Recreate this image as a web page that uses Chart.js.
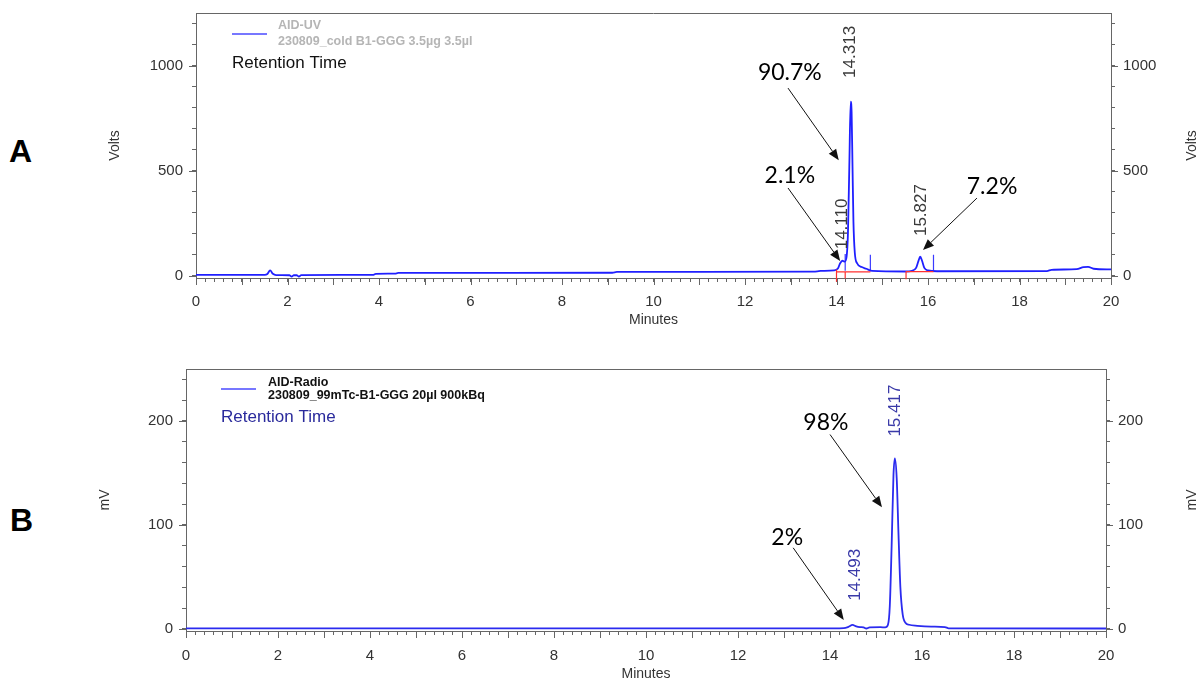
<!DOCTYPE html>
<html>
<head>
<meta charset="utf-8">
<title>HPLC chromatograms</title>
<script src="https://cdn.jsdelivr.net/npm/chart.js@4.4.0/dist/chart.umd.min.js"></script>
<style>
  html, body { margin: 0; padding: 0; background: #fff; overflow: hidden; }
  #wrap { position: relative; width: 1198px; height: 681px; overflow: hidden; }
  canvas { position: absolute; left: 0; }
  #cvA { top: -10px; }
  #cvB { top: 340px; }
  .panel { position: absolute; font: bold 32px Arial, "Liberation Sans", sans-serif; line-height: 32px; color: #000; }
</style>
</head>
<body>
<div id="wrap">
  <div class="panel" style="left:9px; top:135px">A</div>
  <div class="panel" style="left:10px; top:504px">B</div>
  <canvas id="cvA" width="1198" height="350"></canvas>
  <canvas id="cvB" width="1198" height="345"></canvas>
</div>
<script>
const FONT = 'Arial, "Liberation Sans", sans-serif'
const AXIS = '#666'
const TXT = '#333'

// Panel A: UV trace (minutes, volts)
const uvTime = [0, 1.5, 1.56, 1.62, 1.68, 1.75, 2.04, 2.09, 2.14, 2.2, 2.25, 2.3, 3.88, 3.93, 4.35, 4.42,
  9.1, 9.2, 13.5, 13.65, 13.95, 14.03, 14.08, 14.13, 14.18, 14.22, 14.25, 14.28, 14.31, 14.33, 14.35,
  14.37, 14.4, 14.45, 14.55, 14.65, 14.78, 15.5, 15.65, 15.74, 15.79, 15.83, 15.87, 15.92, 16.0, 16.2,
  18.6, 18.7, 19.25, 19.4, 19.5, 19.62, 20]
const uvVolts = [5, 5, 9, 26, 10, 4, 3, -3, 3, 3, -3, 4, 5, 10, 11, 14,
  15, 19, 20, 24, 26, 35, 60, 72, 68, 90, 200, 520, 828, 780, 520,
  260, 110, 60, 42, 34, 24, 21, 24, 38, 70, 91, 72, 38, 26, 22,
  23, 29, 32, 42, 43, 34, 31]

// integration event marks (blue) and baseline / drop lines (red)
const uvEventTimes = [14.19, 14.74, 16.12]
const uvEventLow = [24, 22, 24]
const uvEventHigh = [104, 100, 100]
const uvBaseStart = [14.0, 15.52]
const uvBaseEnd = [14.74, 16.12]
const uvBaseLevel = [19, 20]
const uvDropTimes = [14.0, 14.19, 15.52]
const uvDropTop = [30, 22, 22]
const uvDropBottom = [-28, -12, -16]

// Panel B: radio trace (minutes, mV)
const radioTime = [0, 13.8, 14.3, 14.4, 14.49, 14.57, 14.65, 14.73, 14.79, 14.86, 15.1, 15.2, 15.26,
  15.3, 15.34, 15.38, 15.41, 15.45, 15.49, 15.53, 15.58, 15.64, 15.72, 15.9, 16.2, 16.5, 16.58, 20]
const radioMv = [0.5, 0.5, 0.8, 2, 3.8, 2.5, 1.8, 1.5, 0.4, 1.5, 1.7, 1.4, 4,
  22, 80, 148, 164, 145, 90, 40, 14, 6, 4, 3, 2.2, 1.8, 0.6, 0.4]

const xTickLabels = [0, 2, 4, 6, 8, 10, 12, 14, 16, 18, 20]
const uvYLabels = [0, 500, 1000]
const radioYLabels = [0, 100, 200]

// peak annotations, in data units
const uvNotes = [
  { text: '90.7%', t: 12.98, v: 966 },
  { text: '2.1%', t: 12.98, v: 475 },
  { text: '7.2%', t: 17.4, v: 427 },
  { text: '14.313', t: 14.3, v: 1065, rot: true },
  { text: '14.110', t: 14.12, v: 247, rot: true },
  { text: '15.827', t: 15.85, v: 313, rot: true }
]
const uvArrows = [
  [12.94, 893, 14.05, 550],
  [12.94, 418, 14.08, 71],
  [17.07, 370, 15.89, 123]
]
const radioNotes = [
  { text: '98%', t: 13.91, v: 198 },
  { text: '2%', t: 13.07, v: 88 },
  { text: '15.417', t: 15.41, v: 210, rot: true },
  { text: '14.493', t: 14.54, v: 52, rot: true }
]
const radioArrows = [
  [14.0, 187, 15.13, 117],
  [13.2, 78, 14.3, 8.6]
]

function toPoints(xs, ys) {
  return xs.map((x, i) => ({ x, y: ys[i] }))
}

function segments(x1, x2, y1, y2) {
  const pts = []
  x1.forEach((x, i) => {
    pts.push({ x, y: y1[i] }, { x: x2[i], y: y2[i] }, { x: x2[i], y: null })
  })
  return pts
}

const chromPlugin = {
  id: 'chrom',
  afterDraw(chart, args, o) {
    const { ctx, chartArea: a, scales } = chart
    const sx = scales.x, sy = scales.y
    ctx.save()

    // top frame line
    ctx.strokeStyle = AXIS
    ctx.lineWidth = 1
    ctx.beginPath()
    ctx.moveTo(a.left, Math.round(a.top) + 0.5)
    ctx.lineTo(a.right, Math.round(a.top) + 0.5)
    ctx.stroke()

    // longer marks on whole minutes and labelled values
    ctx.beginPath()
    sx.ticks.forEach(t => {
      if (Math.abs(t.value - Math.round(t.value)) < 1e-6) {
        const px = Math.round(sx.getPixelForValue(t.value)) + 0.5
        ctx.moveTo(px, a.bottom)
        ctx.lineTo(px, a.bottom + 7)
      }
    })
    o.yLabels.forEach(v => {
      const py = Math.round(sy.getPixelForValue(v)) + 0.5
      ctx.moveTo(a.left - 7, py)
      ctx.lineTo(a.left, py)
      ctx.moveTo(a.right, py)
      ctx.lineTo(a.right + 7, py)
    })
    ctx.stroke()

    // right axis title (cut by the page edge)
    ctx.fillStyle = TXT
    ctx.font = '14px ' + FONT
    ctx.textAlign = 'center'
    ctx.textBaseline = 'middle'
    ctx.translate(chart.width - 6, (a.top + a.bottom) / 2)
    ctx.rotate(-Math.PI / 2)
    ctx.fillText(o.yTitle, 0, 0)
    ctx.setTransform(1, 0, 0, 1, 0, 0)

    // legend block
    const lx = a.left + o.legend.dx
    ctx.strokeStyle = o.legend.lineColor
    ctx.lineWidth = 1.5
    ctx.beginPath()
    ctx.moveTo(lx, a.top + o.legend.lineY)
    ctx.lineTo(lx + 35, a.top + o.legend.lineY)
    ctx.stroke()
    ctx.textAlign = 'left'
    ctx.fillStyle = o.legend.color
    ctx.font = 'bold 12.5px ' + FONT
    ctx.fillText(o.legend.name, a.left + 82, a.top + o.legend.y1)
    ctx.fillText(o.legend.sample, a.left + 82, a.top + o.legend.y2)
    ctx.fillStyle = o.legend.rtColor
    ctx.font = '17px ' + FONT
    ctx.fillText('Retention Time', lx, a.top + o.legend.y3)

    // arrows
    ctx.strokeStyle = '#111'
    ctx.fillStyle = '#111'
    ctx.lineWidth = 1
    o.arrows.forEach(([t1, v1, t2, v2]) => {
      const x1 = sx.getPixelForValue(t1), y1 = sy.getPixelForValue(v1)
      const x2 = sx.getPixelForValue(t2), y2 = sy.getPixelForValue(v2)
      const ang = Math.atan2(y2 - y1, x2 - x1)
      const hl = 11, hw = 4.5
      const bx = x2 - hl * Math.cos(ang), by = y2 - hl * Math.sin(ang)
      ctx.beginPath()
      ctx.moveTo(x1, y1)
      ctx.lineTo(bx, by)
      ctx.stroke()
      ctx.beginPath()
      ctx.moveTo(x2, y2)
      ctx.lineTo(bx + hw * Math.sin(ang), by - hw * Math.cos(ang))
      ctx.lineTo(bx - hw * Math.sin(ang), by + hw * Math.cos(ang))
      ctx.closePath()
      ctx.fill()
    })

    // percentages and retention times
    ctx.textAlign = 'center'
    ctx.textBaseline = 'middle'
    o.notes.forEach(n => {
      const px = sx.getPixelForValue(n.t), py = sy.getPixelForValue(n.v)
      if (n.rot) {
        ctx.fillStyle = o.rtTextColor
        ctx.font = '17px ' + FONT
        ctx.translate(px, py)
        ctx.rotate(-Math.PI / 2)
        ctx.fillText(n.text, 0, 0)
        ctx.setTransform(1, 0, 0, 1, 0, 0)
      } else {
        ctx.fillStyle = '#000'
        ctx.font = '23px Lato, "Open Sans", sans-serif'
        ctx.fillText(n.text, px, py)
      }
    })
    ctx.restore()
  }
}

function makeChart(id, p) {
  const tickFont = { family: FONT, size: 15 }
  const yTickCallback = v => p.yLabels.includes(v) ? String(v) : ''
  return new Chart(document.getElementById(id), {
    type: 'line',
    data: { datasets: p.datasets },
    options: {
      responsive: false,
      animation: false,
      events: [],
      layout: { autoPadding: false, padding: { top: p.top, left: 0, right: 0, bottom: 0 } },
      plugins: {
        legend: { display: false },
        tooltip: { enabled: false },
        chrom: {
          yLabels: p.yLabels,
          yTitle: p.yTitle,
          legend: p.legend,
          notes: p.notes,
          arrows: p.arrows,
          rtTextColor: p.rtTextColor
        }
      },
      scales: {
        x: {
          type: 'linear',
          min: 0,
          max: 20,
          afterFit: s => { s.height = p.xHeight },
          border: { color: AXIS },
          grid: { drawOnChartArea: false, tickLength: 4, color: AXIS },
          ticks: {
            stepSize: 0.2,
            autoSkip: false,
            maxRotation: 0,
            includeBounds: false,
            padding: p.xPad,
            color: TXT,
            font: tickFont,
            callback: v => {
              const r = Math.round(v)
              return Math.abs(v - r) < 1e-6 && xTickLabels.includes(r) ? String(r) : ''
            }
          },
          title: {
            display: true,
            text: 'Minutes',
            color: TXT,
            font: { family: FONT, size: 14 },
            padding: { top: 0, bottom: p.minutesPad }
          }
        },
        y: {
          type: 'linear',
          position: 'left',
          min: p.yMin,
          max: p.yMax,
          afterFit: s => { s.width = p.left },
          border: { color: AXIS },
          grid: { drawOnChartArea: false, tickLength: 4, color: AXIS },
          ticks: { stepSize: p.yStep, includeBounds: false, padding: 9, color: TXT, font: tickFont, callback: yTickCallback },
          title: {
            display: true,
            text: p.yTitle,
            color: TXT,
            font: { family: FONT, size: 14 },
            padding: { top: p.yTitlePad, bottom: 0 }
          }
        },
        y2: {
          type: 'linear',
          position: 'right',
          min: p.yMin,
          max: p.yMax,
          afterFit: s => { s.width = 1198 - p.right },
          border: { color: AXIS },
          grid: { drawOnChartArea: false, tickLength: 4, color: AXIS },
          ticks: { stepSize: p.yStep, includeBounds: false, padding: 8, color: TXT, font: tickFont, callback: yTickCallback }
        }
      }
    },
    plugins: [chromPlugin]
  })
}

// canvas A is shifted up by 10px, so its inner offsets include that shift
makeChart('cvA', {
  top: 23, left: 196, right: 1111, xHeight: 62,
  yMin: -10, yMax: 1250, yStep: 100, yLabels: uvYLabels, yTitle: 'Volts', yTitlePad: 107,
  xPad: 11, minutesPad: 11,
  rtTextColor: '#3a3a3a',
  legend: {
    dx: 36, lineY: 21, y1: 13, y2: 29, y3: 50,
    lineColor: '#4a4aff', color: '#b5b5b5', rtColor: '#111',
    name: 'AID-UV', sample: '230809_cold B1-GGG 3.5µg 3.5µl'
  },
  notes: uvNotes,
  arrows: uvArrows,
  datasets: [
    {
      label: 'AID-UV',
      data: toPoints(uvTime, uvVolts),
      borderColor: '#1f1fff',
      borderWidth: 1.8,
      pointRadius: 0,
      cubicInterpolationMode: 'monotone',
      order: 2
    },
    {
      label: 'events',
      data: segments(uvEventTimes, uvEventTimes, uvEventLow, uvEventHigh),
      borderColor: '#3a3aff',
      borderWidth: 1.2,
      pointRadius: 0,
      spanGaps: false,
      order: 3
    },
    {
      label: 'baseline',
      data: segments(uvBaseStart, uvBaseEnd, uvBaseLevel, uvBaseLevel)
        .concat(segments(uvDropTimes, uvDropTimes, uvDropTop, uvDropBottom)),
      borderColor: '#ff3030',
      borderWidth: 1.2,
      pointRadius: 0,
      spanGaps: false,
      clip: false,
      order: 1
    }
  ]
})

makeChart('cvB', {
  top: 29, left: 186, right: 1106, xHeight: 54,
  yMin: -2, yMax: 250, yStep: 10, yLabels: radioYLabels, yTitle: 'mV', yTitlePad: 97,
  xPad: 12, minutesPad: 2,
  rtTextColor: '#3a3aa8',
  legend: {
    dx: 35, lineY: 20, y1: 13.5, y2: 27, y3: 48.5,
    lineColor: '#4a4aff', color: '#111', rtColor: '#2a2a9c',
    name: 'AID-Radio', sample: '230809_99mTc-B1-GGG 20µl 900kBq'
  },
  notes: radioNotes,
  arrows: radioArrows,
  datasets: [
    {
      label: 'AID-Radio',
      data: toPoints(radioTime, radioMv),
      borderColor: '#2b2bef',
      borderWidth: 1.8,
      pointRadius: 0,
      cubicInterpolationMode: 'monotone'
    }
  ]
})
</script>
</body>
</html>
